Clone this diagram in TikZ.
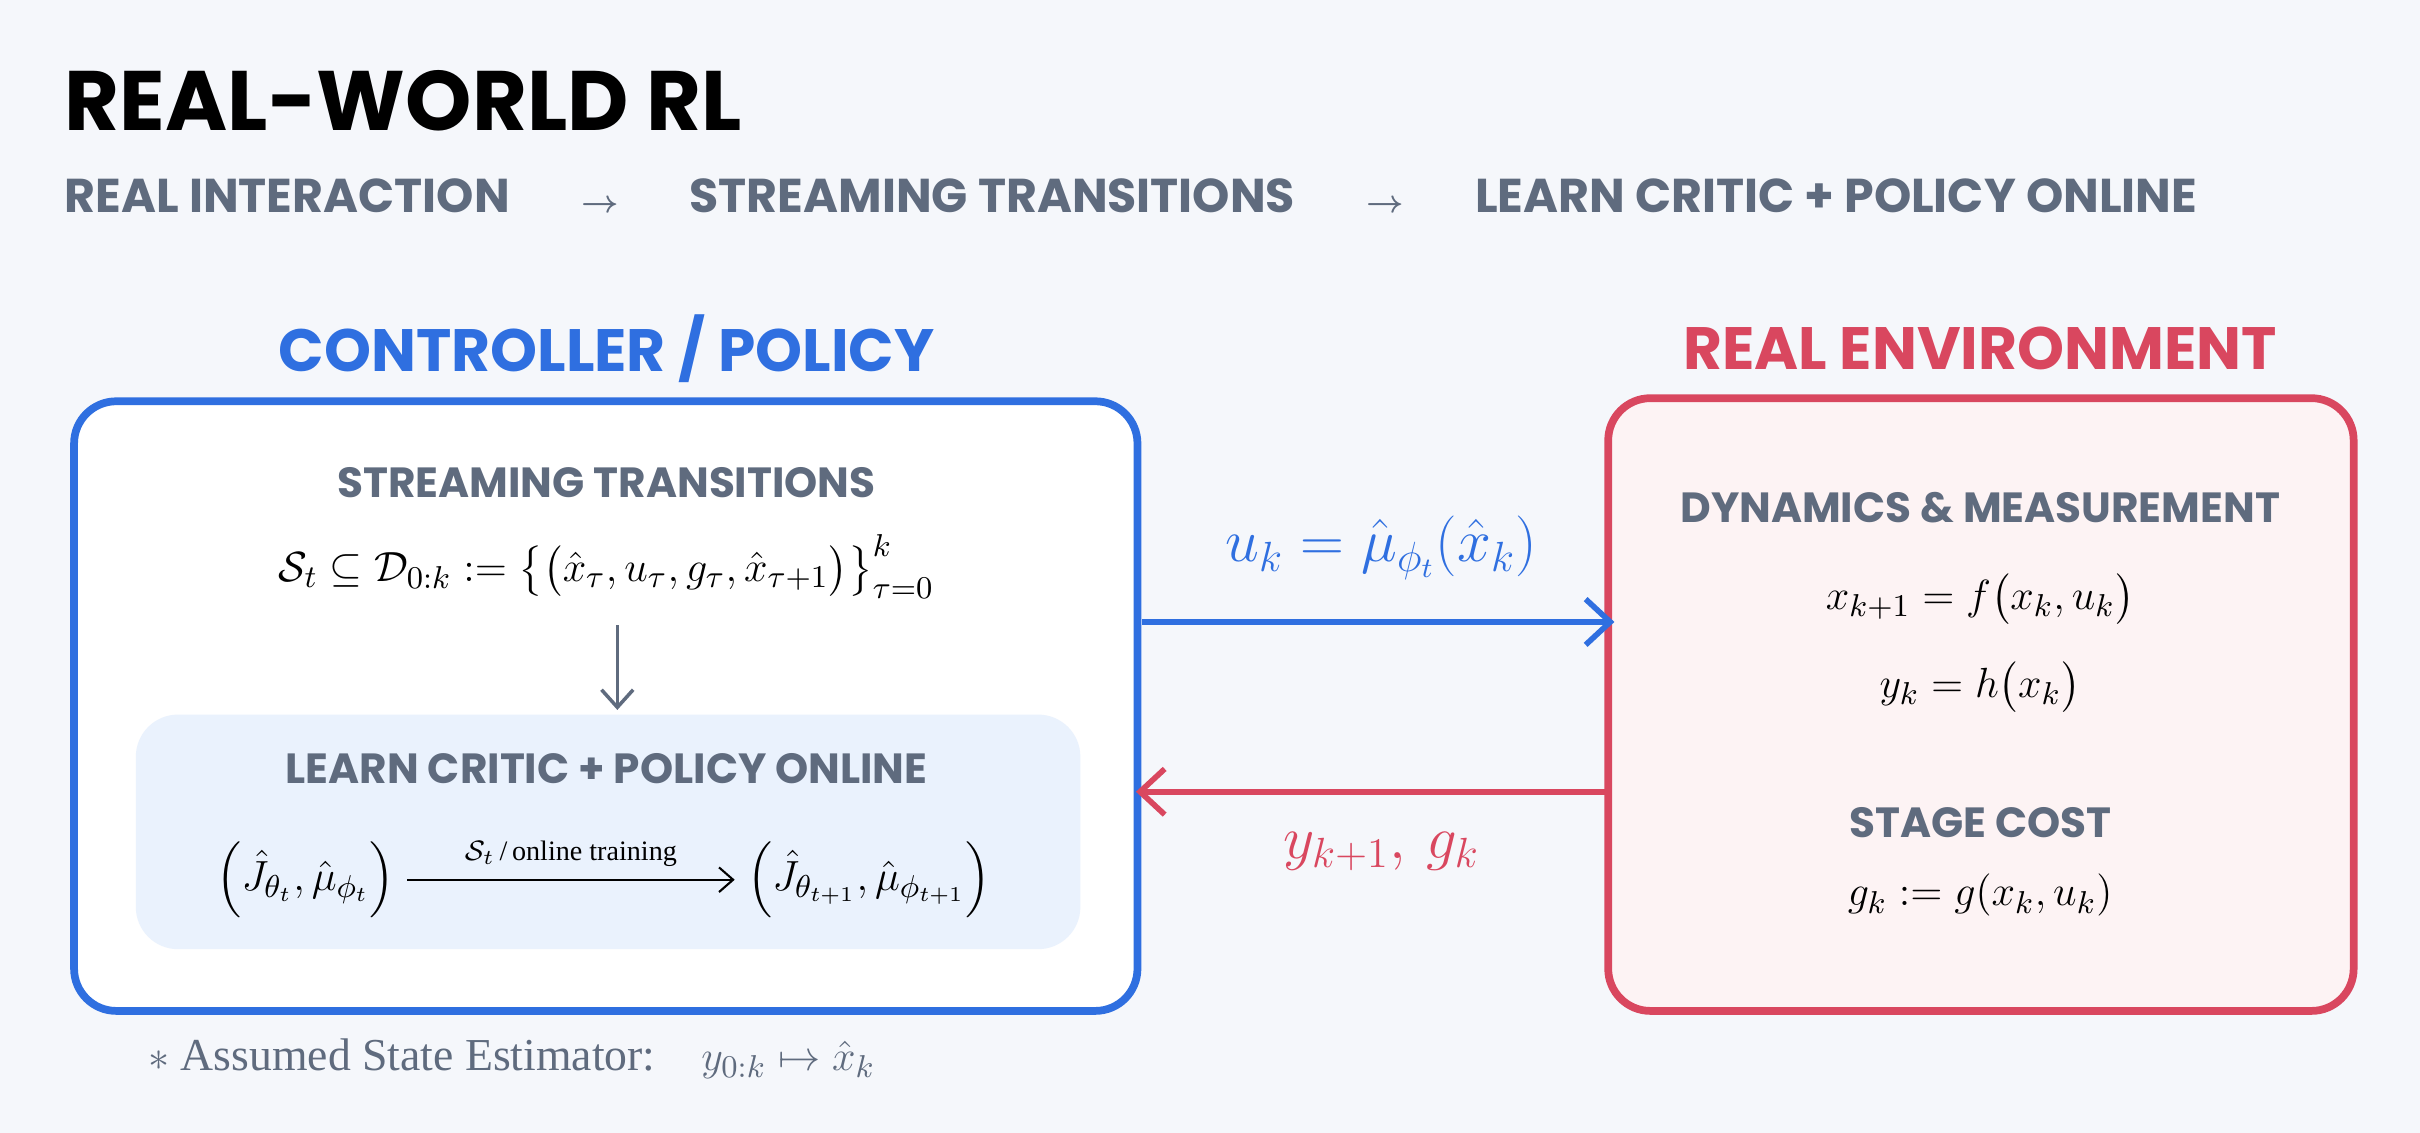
\documentclass[tikz,border=0pt]{standalone}
\usepackage{amsmath}
\usepackage{fontspec}
\setsansfont{Poppins}
\setmainfont{Liberation Serif}
\usetikzlibrary{arrows.meta}
\definecolor{bg}{HTML}{F5F7FB}
\definecolor{gr}{HTML}{5F6B7E}
\definecolor{bl}{HTML}{2F6FE0}
\definecolor{rd}{HTML}{D9475F}
\definecolor{rfill}{HTML}{FDF3F4}
\definecolor{ifill}{HTML}{EAF2FD}
\newcommand{\defeq}{\mathrel{:=}}
\tikzset{
 hd/.style={font=\sffamily\bfseries\fontsize{12}{14}\selectfont,text=gr},
 big/.style={font=\sffamily\bfseries\fontsize{17}{20}\selectfont},
 mth/.style={font=\fontsize{13}{15}\selectfont},
 lab/.style={font=\fontsize{17}{20}\selectfont},
}
\begin{document}
\begin{tikzpicture}[x=0.01543cm,y=-0.01543cm]
\fill[bg] (0,0) rectangle (1568,734);
\useasboundingbox (0,0) rectangle (1568,734);
\node[anchor=west,font=\sffamily\bfseries\fontsize{24}{27}\selectfont] (title) at (34,65) {REAL-WORLD RL};
\node[anchor=west,font=\sffamily\bfseries\fontsize{13.5}{16}\selectfont,text=gr] (sub) at (34,127) {REAL INTERACTION\hspace{1.5em}{\small$\boldsymbol{\rightarrow}$}\hspace{1.5em}STREAMING TRANSITIONS\hspace{1.5em}{\small$\boldsymbol{\rightarrow}$}\hspace{1.5em}LEARN CRITIC + POLICY ONLINE};
\node[big,text=bl] (ch) at (393,226) {CONTROLLER / POLICY};
\node[big,text=rd] (eh) at (1283,226) {REAL ENVIRONMENT};
\draw[bl,line width=2.2pt,fill=white,rounded corners=12] (48,260) rectangle (737,655);
\draw[rd,line width=2.2pt,fill=rfill,rounded corners=12] (1042,258) rectangle (1525,655);
\fill[ifill,rounded corners=12] (88,463) rectangle (700,615);
\node[hd] (st) at (393,313) {STREAMING TRANSITIONS};
\node[mth] (sf) at (393,367) {$\mathcal{S}_t\subseteq\mathcal{D}_{0:k}\defeq\bigl\{\bigl(\hat x_\tau,u_\tau,g_\tau,\hat x_{\tau+1}\bigr)\bigr\}_{\tau=0}^{k}$};
\node[hd] (lc) at (393,498) {LEARN CRITIC + POLICY ONLINE};
\coordinate (a1) at (400,405); \coordinate (a2) at (400,460);
\draw[gr,line width=1pt,-{Straight Barb[length=5pt,width=9pt]}] (a1) -- (a2);
\node[mth] (l1) at (198,570) {$\Bigl(\hat J_{\theta_t},\hat\mu_{\phi_t}\Bigr)$};
\node[mth] (l2) at (563,570) {$\Bigl(\hat J_{\theta_{t+1}},\hat\mu_{\phi_{t+1}}\Bigr)$};
\draw[line width=0.6pt,-{Straight Barb[length=4pt,width=7pt]}] (l1.east) -- node[above,font=\fontsize{8}{10}\selectfont]{$\mathcal{S}_t$\,/\,online training} (l2.west);
\node[hd] (dm) at (1283,329) {DYNAMICS \& MEASUREMENT};
\node[mth] (e1) at (1283,388) {$x_{k+1}=f\bigl(x_k,u_k\bigr)$};
\node[mth] (e2) at (1283,445) {$y_k=h\bigl(x_k\bigr)$};
\node[hd] (sc) at (1283,533) {STAGE COST};
\node[mth] (e3) at (1283,580) {$g_k\defeq g(x_k,u_k)$};
\coordinate (b1) at (740,403); \coordinate (b2) at (1046,403);
\draw[bl,line width=1.6pt,-{Straight Barb[length=7pt,width=13pt]}] (b1) -- (b2);
\node[lab,text=bl] (ul) at (895,355) {$u_k=\hat\mu_{\phi_t}(\hat x_k)$};
\coordinate (c1) at (1040,513); \coordinate (c2) at (736,513);
\draw[rd,line width=1.6pt,-{Straight Barb[length=7pt,width=13pt]}] (c1) -- (c2);
\node[lab,text=rd] (yl) at (895,552) {$y_{k+1},\,g_k$};
\node[anchor=west,text=gr,font=\fontsize{13}{15}\selectfont] (fn) at (88,686) {$*$ Assumed State Estimator:\quad $y_{0:k}\mapsto\hat x_k$};
\end{tikzpicture}
\end{document}
